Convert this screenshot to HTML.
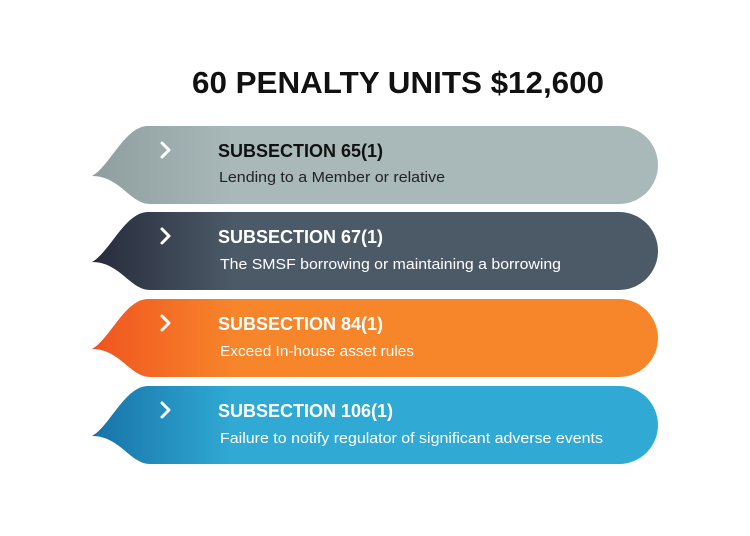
<!DOCTYPE html>
<html><head><style>
body{margin:0;width:750px;height:536px;background:#fff;overflow:hidden}
svg{display:block}
</style></head><body>
<svg width="750" height="536" viewBox="0 0 750 536" font-family="Liberation Sans, sans-serif">
<defs>
<linearGradient id="g1" x1="0" x2="1"><stop offset="0" stop-color="#8e9e9f"/><stop offset="0.25" stop-color="#a9b8b8"/><stop offset="1" stop-color="#a9b8b8"/></linearGradient>
<linearGradient id="g2" x1="0" x2="1"><stop offset="0" stop-color="#262b3a"/><stop offset="0.25" stop-color="#4c5a68"/><stop offset="1" stop-color="#4c5a68"/></linearGradient>
<linearGradient id="g3" x1="0" x2="1"><stop offset="0" stop-color="#f0541f"/><stop offset="0.25" stop-color="#f7852a"/><stop offset="1" stop-color="#f7852a"/></linearGradient>
<linearGradient id="g4" x1="0" x2="1"><stop offset="0" stop-color="#1772a8"/><stop offset="0.25" stop-color="#30aad4"/><stop offset="1" stop-color="#30aad4"/></linearGradient>
<g id="shape"><path d="M148 0 H619 A39 39 0 0 1 619 78 H150 C130 78 120 50 92 50 C110 40 125 0 148 0 Z"/></g>
</defs>
<text x="192" y="93" textLength="412" lengthAdjust="spacingAndGlyphs" font-size="31" font-weight="bold" fill="#111">60 PENALTY UNITS $12,600</text>

<g transform="translate(0,126)"><use href="#shape" fill="url(#g1)"/></g>
<g transform="translate(0,212)"><use href="#shape" fill="url(#g2)"/></g>
<g transform="translate(0,299)"><use href="#shape" fill="url(#g3)"/></g>
<g transform="translate(0,386)"><use href="#shape" fill="url(#g4)"/></g>

<g fill="none" stroke="#fff" stroke-width="3" stroke-linecap="round" stroke-linejoin="round">
<path d="M162 143 L169 150 L162 157"/>
<path d="M162 229 L169 236 L162 243"/>
<path d="M162 316 L169 323 L162 330"/>
<path d="M162 403 L169 410 L162 417"/>
</g>

<text x="218" y="157" font-size="18" font-weight="bold" fill="#111">SUBSECTION 65(1)</text>
<text x="219" y="182" textLength="226" lengthAdjust="spacingAndGlyphs" font-size="15" fill="#222">Lending to a Member or relative</text>
<text x="218" y="243" font-size="18" font-weight="bold" fill="#fff">SUBSECTION 67(1)</text>
<text x="220" y="269" textLength="341" lengthAdjust="spacingAndGlyphs" font-size="15" fill="#fff">The SMSF borrowing or maintaining a borrowing</text>
<text x="218" y="330" font-size="18" font-weight="bold" fill="#fff">SUBSECTION 84(1)</text>
<text x="220" y="356" textLength="194" lengthAdjust="spacingAndGlyphs" font-size="15" fill="#fff">Exceed In-house asset rules</text>
<text x="218" y="417" font-size="18" font-weight="bold" fill="#fff">SUBSECTION 106(1)</text>
<text x="220" y="443" textLength="383" lengthAdjust="spacingAndGlyphs" font-size="15" fill="#fff">Failure to notify regulator of significant adverse events</text>
</svg>
</body></html>
